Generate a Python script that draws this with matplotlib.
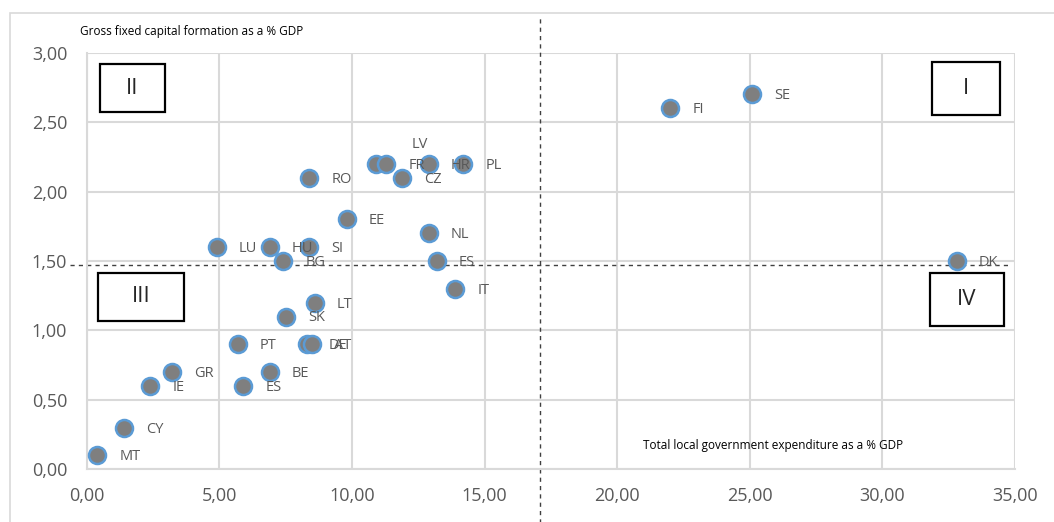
import matplotlib.pyplot as plt
from matplotlib.patches import Rectangle
from matplotlib.ticker import FuncFormatter, MultipleLocator

plt.rcParams['font.family'] = ['Open Sans', 'DejaVu Sans']

# data
paises = ["MT", "CY", "IE", "GR", "ES", "BE", "PT", "DE", "AT", "SK", "LT",
          "LU", "HU", "SI", "BG", "EE", "RO", "LV", "FR", "CZ", "HR", "PL",
          "NL", "ES", "IT", "FI", "SE", "DK"]
despesa_local = [0.4, 1.4, 2.4, 3.2, 5.9, 6.9, 5.7, 8.3, 8.5, 7.5, 8.6,
                 4.9, 6.9, 8.4, 7.4, 9.8, 8.4, 10.9, 11.3, 11.9, 12.9, 14.2,
                 12.9, 13.2, 13.9, 22.0, 25.1, 32.8]
fbcf = [0.1, 0.3, 0.6, 0.7, 0.6, 0.7, 0.9, 0.9, 0.9, 1.1, 1.2,
        1.6, 1.6, 1.6, 1.5, 1.8, 2.1, 2.2, 2.2, 2.1, 2.2, 2.2,
        1.7, 1.5, 1.3, 2.6, 2.7, 1.5]
media_x = 17.1
media_y = 1.47

W, H = 1054, 522

fig = plt.figure(figsize=(W / 100, H / 100), dpi=100)
ax = fig.add_axes([86.7 / W, 1 - 469.3 / H, (1015 - 86.7) / W, (469.3 - 52.7) / H])

cinza = '#595959'
ax.scatter(despesa_local, fbcf, s=150, c='#7f7f7f', edgecolors='#5b9bd5',
           linewidths=1.8, zorder=3)

for nome, x, y in zip(paises, despesa_local, fbcf):
    # LV foi movido para cima no original
    dx, dy = (26, 14) if nome == "LV" else (16, -1)
    ax.annotate(nome, (x, y), xytext=(dx, dy), textcoords='offset points',
                fontsize=10.5, color=cinza, va='center', zorder=4)

ax.set_xlim(0, 35)
ax.set_ylim(0, 3)
ax.xaxis.set_major_locator(MultipleLocator(5))
ax.yaxis.set_major_locator(MultipleLocator(0.5))
fmt = FuncFormatter(lambda v, p: f"{v:.2f}".replace('.', ','))
ax.xaxis.set_major_formatter(fmt)
ax.yaxis.set_major_formatter(fmt)
ax.tick_params(axis='both', labelsize=13, labelcolor=cinza, length=0)
ax.tick_params(axis='x', pad=13)
ax.tick_params(axis='y', pad=14)
ax.grid(True, color='#d9d9d9', linewidth=1.5, zorder=0)
for lado in ['top', 'right']:
    ax.spines[lado].set_visible(False)
for lado in ['left', 'bottom']:
    ax.spines[lado].set_color('#d9d9d9')
    ax.spines[lado].set_linewidth(1.5)

# linhas médias
ax.axhline(media_y, xmin=-0.018, xmax=0.992, color='#404040', linestyle=(0, (3, 3)),
           linewidth=1, clip_on=False, zorder=2)
ax.axvline(media_x, ymin=-0.13, ymax=1.09, color='#404040', linestyle=(0, (3, 3)),
           linewidth=1, clip_on=False, zorder=2)

# quadrantes (caixas em pixels da figura)
quadrantes = [("II", 100, 64, 165, 112), ("I", 932, 62, 1000, 115),
              ("III", 98, 273, 184, 321), ("IV", 930, 273, 1004, 326)]
for rotulo, x0, y0, x1, y1 in quadrantes:
    ret = Rectangle((x0 / W, 1 - y1 / H), (x1 - x0) / W, (y1 - y0) / H,
                    transform=fig.transFigure, facecolor='white', edgecolor='black',
                    linewidth=1.6, zorder=5)
    fig.patches.append(ret)
    fig.text((x0 + x1) / 2 / W, 1 - (y0 + y1) / 2 / H, rotulo, fontsize=16,
             color='#262626', ha='center', va='center', zorder=6)

fig.text(80 / W, 1 - 32 / H, "Gross fixed capital formation as a % GDP",
         fontsize=8.5, color='black', va='center')
fig.text(643 / W, 1 - 446 / H, "Total local government expenditure as a % GDP",
         fontsize=8.5, color='black', va='center')

# borda da área do gráfico
borda = Rectangle((10 / W, -0.02), 1.1, 1 - 13 / H + 0.02, transform=fig.transFigure,
                  fill=False, edgecolor='#d9d9d9', linewidth=1.2)
fig.patches.append(borda)

fig.savefig("out.png", dpi=100)
